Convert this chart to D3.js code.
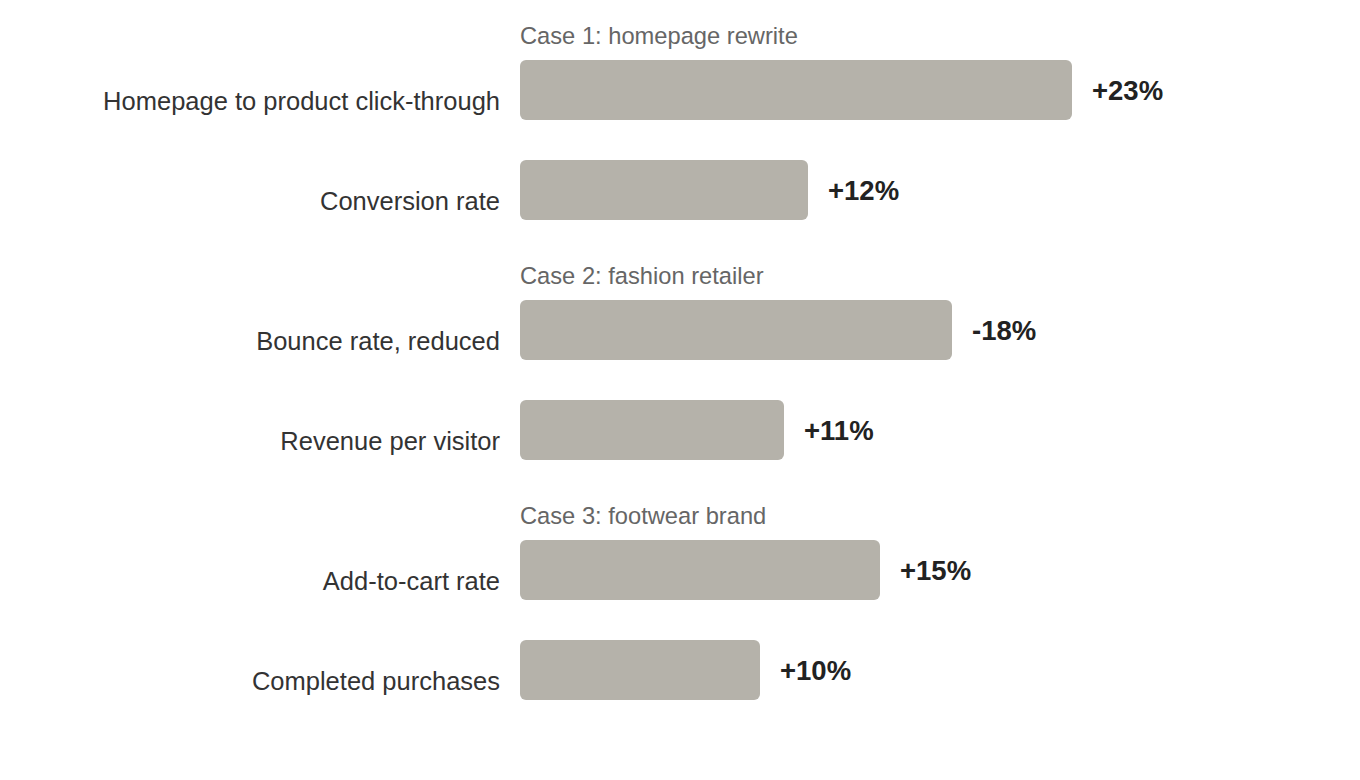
<!DOCTYPE html>
<html>
<head>
<meta charset="utf-8">
<script src="https://cdn.jsdelivr.net/npm/d3@7"></script>
<style>
  html, body { margin: 0; padding: 0; background: #fff; }
  svg { display: block; font-family: "Liberation Sans", Arial, sans-serif; }
</style>
</head>
<body>
<svg id="chart" width="1360" height="780"></svg>
<script>
const groups = ["Case 1: homepage rewrite", "Case 2: fashion retailer", "Case 3: footwear brand"];
const categories = [
  "Homepage to product click-through",
  "Conversion rate",
  "Bounce rate, reduced",
  "Revenue per visitor",
  "Add-to-cart rate",
  "Completed purchases"
];
const categoryGroup = [0, 0, 1, 1, 2, 2];
const values = [23, 12, 18, 11, 15, 10];
const valueLabels = ["+23%", "+12%", "-18%", "+11%", "+15%", "+10%"];

const svg = d3.select("#chart");
const x0 = 520;
const x = d3.scaleLinear().domain([0, 25]).range([x0, x0 + 600]);

// row slots: each row 100px, extra 40px gap between groups
const slotIndex = categories.map((c, i) => i + categoryGroup[i] * 0.4);
const y = d3.scaleLinear().domain([0, 1]).range([60, 160]);
const barH = 60;

const data = categories.map((c, i) => ({
  cat: c, g: categoryGroup[i], v: values[i], label: valueLabels[i], slot: slotIndex[i]
}));

// group headers
groups.forEach((g, gi) => {
  const first = data.find(d => d.g === gi);
  svg.append("text")
    .attr("x", x0)
    .attr("y", y(first.slot) - 16)
    .attr("fill", "#666")
    .attr("font-size", 23.7)
    .text(g);
});

const rows = svg.selectAll("g.row").data(data).join("g").attr("class", "row");

rows.append("rect")
  .attr("x", x(0))
  .attr("y", d => y(d.slot))
  .attr("width", d => x(d.v) - x(0))
  .attr("height", barH)
  .attr("rx", 6).attr("ry", 6)
  .attr("fill", "#b5b2aa");

rows.append("text")
  .attr("x", x0 - 20)
  .attr("y", d => y(d.slot) + barH - 10)
  .attr("text-anchor", "end")
  .attr("fill", "#333")
  .attr("font-size", 25.5)
  .text(d => d.cat);

rows.append("text")
  .attr("x", d => x(d.v) + 20)
  .attr("y", d => y(d.slot) + barH / 2)
  .attr("dy", "0.35em")
  .attr("fill", "#222")
  .attr("font-size", 27.5)
  .attr("font-weight", "bold")
  .text(d => d.label);
</script>
</body>
</html>
